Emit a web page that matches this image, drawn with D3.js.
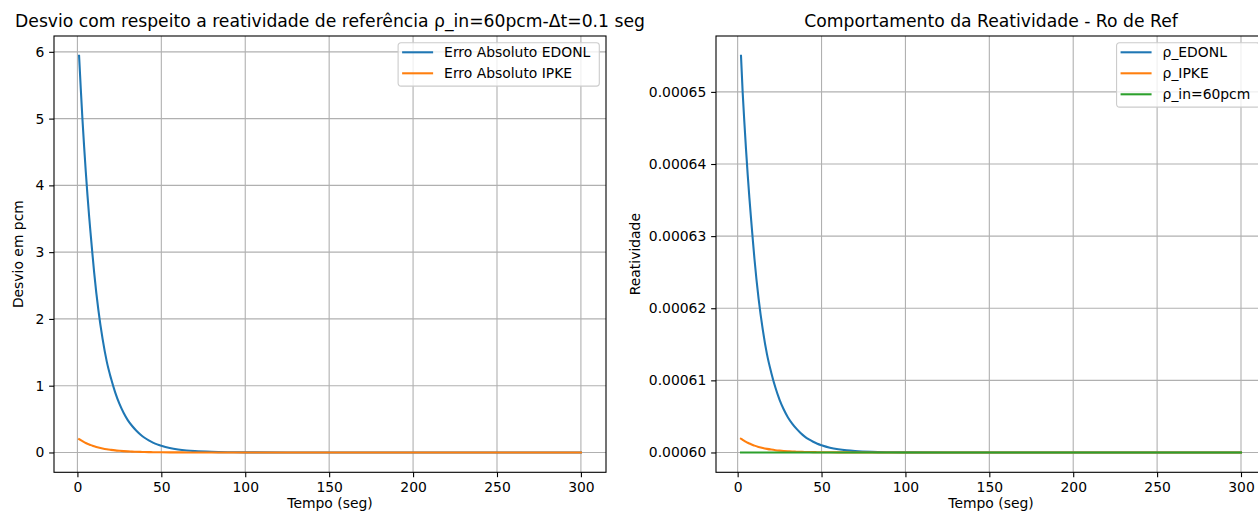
<!DOCTYPE html>
<html>
<head>
<meta charset="utf-8">
<script src="https://cdn.jsdelivr.net/npm/d3@7"></script>
<style>
  body { margin: 0; background: #fff; }
  svg { display: block; font-family: "DejaVu Sans", sans-serif; }
</style>
</head>
<body>
<svg id="chart" width="1258" height="513"></svg>
<script>
// values
const timeLeft = [1, 2, 3, 4, 5, 6, 7, 8, 9, 10,
    12.5, 15, 17.5, 20, 22.5, 25, 27.5, 30, 32.5, 35, 37.5, 40, 42.5, 45, 47.5, 50,
    55, 60, 65, 70, 80, 90, 100, 125, 150, 200, 250, 300];
const erroEDONL = [5.94, 5.45, 4.99, 4.58, 4.2, 3.85, 3.53, 3.24, 2.96, 2.69,
    2.13, 1.70, 1.36, 1.11, 0.9, 0.73, 0.595, 0.485, 0.4, 0.33, 0.27, 0.22, 0.18, 0.148, 0.121, 0.1,
    0.067, 0.045, 0.03, 0.02, 0.009, 0.004, 0.0018, 0, 0, 0, 0, 0];
const erroIPKE = [0.2, 0.184, 0.169, 0.155, 0.142, 0.13, 0.12, 0.11, 0.101, 0.093,
    0.075, 0.06, 0.048, 0.039, 0.031, 0.025, 0.02, 0.016, 0.013, 0.0105, 0.0085, 0.0068, 0.0055, 0.0044, 0.0036, 0.0029,
    0.0019, 0.0012, 0.0008, 0.0005, 0.0002, 0.0001, 0, 0, 0, 0, 0, 0];

const timeRight = [2, 3, 4, 5, 6, 7, 8, 9, 10,
    12.5, 15, 17.5, 20, 22.5, 25, 27.5, 30, 32.5, 35, 37.5, 40, 42.5, 45, 47.5, 50,
    55, 60, 65, 70, 80, 90, 100, 125, 150, 200, 250, 300];
const rhoEDONL = [0.000655, 0.0006499, 0.0006458, 0.000642, 0.0006385, 0.0006353, 0.0006324, 0.0006296, 0.0006269,
    0.0006213, 0.000617, 0.0006136, 0.0006111, 0.000609, 0.0006073, 0.00060595, 0.00060485, 0.000604, 0.0006033, 0.0006027, 0.0006022, 0.0006018, 0.00060148, 0.00060121, 0.000601,
    0.00060066, 0.00060044, 0.00060029, 0.00060019, 0.00060008, 0.000600035, 0.000600015, 0.0006, 0.0006, 0.0006, 0.0006, 0.0006];
const rhoIPKE = [0.0006019, 0.00060175, 0.0006016, 0.00060147, 0.00060135, 0.00060124, 0.00060113, 0.00060104, 0.00060095,
    0.00060077, 0.00060062, 0.0006005, 0.0006004, 0.00060032, 0.00060026, 0.00060021, 0.00060017, 0.00060013, 0.00060011, 0.00060009, 0.00060007, 0.00060006, 0.00060005, 0.00060004, 0.00060003,
    0.00060002, 0.000600012, 0.000600008, 0.000600005, 0.000600002, 0.000600001, 0.0006, 0.0006, 0.0006, 0.0006, 0.0006, 0.0006];
const rhoInTime = [2, 300];
const rhoIn = [0.0006, 0.0006];

const xTicks = [0, 50, 100, 150, 200, 250, 300];
const yTicksLeft = [0, 1, 2, 3, 4, 5, 6];
const yTicksRight = [0.0006, 0.00061, 0.00062, 0.00063, 0.00064, 0.00065];

const blue = "#1f77b4", orange = "#ff7f0e", green = "#2ca02c";
const fs = 13.9;

const svg = d3.select("#chart");

// matplotlib style 5% margins
function padded(ext) {
    const r = ext[1] - ext[0];
    return [ext[0] - 0.05 * r, ext[1] + 0.05 * r];
}

function drawPanel(p) {
    const g = svg.append("g");
    const allT = p.series.flatMap(s => s.t);
    const allV = p.series.flatMap(s => s.v);
    const x = d3.scaleLinear().domain(padded(d3.extent(allT))).range([p.x0, p.x1]);
    const y = d3.scaleLinear().domain(padded(d3.extent(allV))).range([p.y1, p.y0]);

    // grid
    g.append("g").selectAll("line").data(p.xTicks).join("line")
        .attr("x1", d => x(d)).attr("x2", d => x(d))
        .attr("y1", p.y0).attr("y2", p.y1)
        .attr("stroke", "#b0b0b0").attr("stroke-width", 1.1);
    g.append("g").selectAll("line").data(p.yTicks).join("line")
        .attr("x1", p.x0).attr("x2", p.x1)
        .attr("y1", d => y(d)).attr("y2", d => y(d))
        .attr("stroke", "#b0b0b0").attr("stroke-width", 1.1);

    // series
    const line = d3.line().curve(d3.curveMonotoneX);
    p.series.forEach(s => {
        g.append("path")
            .attr("d", line(s.t.map((t, i) => [x(t), y(s.v[i])])))
            .attr("fill", "none")
            .attr("stroke", s.color)
            .attr("stroke-width", 2.08)
            .attr("stroke-linecap", "square");
    });

    // spines
    g.append("rect")
        .attr("x", p.x0).attr("y", p.y0)
        .attr("width", p.x1 - p.x0).attr("height", p.y1 - p.y0)
        .attr("fill", "none").attr("stroke", "#000").attr("stroke-width", 1.1);

    // axes
    const ax = g.append("g").attr("transform", `translate(0,${p.y1})`)
        .call(d3.axisBottom(x).tickValues(p.xTicks).tickSize(4.86).tickPadding(4.86).tickSizeOuter(0));
    const ay = g.append("g").attr("transform", `translate(${p.x0},0)`)
        .call(d3.axisLeft(y).tickValues(p.yTicks).tickFormat(p.yFormat).tickSize(4.86).tickPadding(4.86).tickSizeOuter(0));
    [ax, ay].forEach(a => {
        a.select(".domain").remove();
        a.attr("font-family", null).attr("font-size", fs);
        a.selectAll("line").attr("stroke", "#000").attr("stroke-width", 1.1);
        a.selectAll("text").attr("fill", "#000");
    });

    // labels
    g.append("text")
        .attr("x", (p.x0 + p.x1) / 2).attr("y", 27)
        .attr("text-anchor", "middle").attr("font-size", 17.2)
        .text(p.title);
    g.append("text")
        .attr("x", (p.x0 + p.x1) / 2).attr("y", 508)
        .attr("text-anchor", "middle").attr("font-size", fs)
        .text("Tempo (seg)");
    g.append("text")
        .attr("transform", `translate(${p.ylabelX},${(p.y0 + p.y1) / 2}) rotate(-90)`)
        .attr("text-anchor", "middle").attr("font-size", fs)
        .text(p.ylabel);

    // legend
    const lg = g.append("g");
    const box = lg.append("rect");
    const rows = lg.selectAll("g").data(p.series).join("g")
        .attr("transform", (d, i) => `translate(0,${9.6 + i * 21})`);
    rows.append("line")
        .attr("x1", 4).attr("x2", 35).attr("y1", 0).attr("y2", 0)
        .attr("stroke", d => d.color).attr("stroke-width", 2.08);
    const texts = rows.append("text")
        .attr("x", 46).attr("dy", "0.36em").attr("font-size", fs)
        .text(d => d.label);
    let tw = 0;
    texts.each(function() { tw = Math.max(tw, this.getComputedTextLength()); });
    const bw = 46 + tw + 9;
    const bh = 9.6 + 21 * (p.series.length - 1) + 12.8;
    box.attr("width", bw).attr("height", bh).attr("rx", 2.8)
        .attr("fill", "#fff").attr("fill-opacity", 0.8)
        .attr("stroke", "#cccccc").attr("stroke-width", 1.1);
    lg.attr("transform", `translate(${p.x1 - 6.7 - bw},${p.y0 + 6.7})`);
}

drawPanel({
    x0: 54, x1: 606, y0: 36, y1: 472.3,
    title: "Desvio com respeito a reatividade de referência ρ_in=60pcm-Δt=0.1 seg",
    ylabel: "Desvio em pcm", ylabelX: 23,
    xTicks: xTicks, yTicks: yTicksLeft, yFormat: d3.format("d"),
    series: [
        { t: timeLeft, v: erroEDONL, color: blue, label: "Erro Absoluto EDONL" },
        { t: timeLeft, v: erroIPKE, color: orange, label: "Erro Absoluto IPKE" }
    ]
});

drawPanel({
    x0: 716, x1: 1266, y0: 36, y1: 472.3,
    title: "Comportamento da Reatividade - Ro de Ref",
    ylabel: "Reatividade", ylabelX: 640,
    xTicks: xTicks, yTicks: yTicksRight, yFormat: d3.format(".5f"),
    series: [
        { t: timeRight, v: rhoEDONL, color: blue, label: "ρ_EDONL" },
        { t: timeRight, v: rhoIPKE, color: orange, label: "ρ_IPKE" },
        { t: rhoInTime, v: rhoIn, color: green, label: "ρ_in=60pcm" }
    ]
});
</script>
</body>
</html>
